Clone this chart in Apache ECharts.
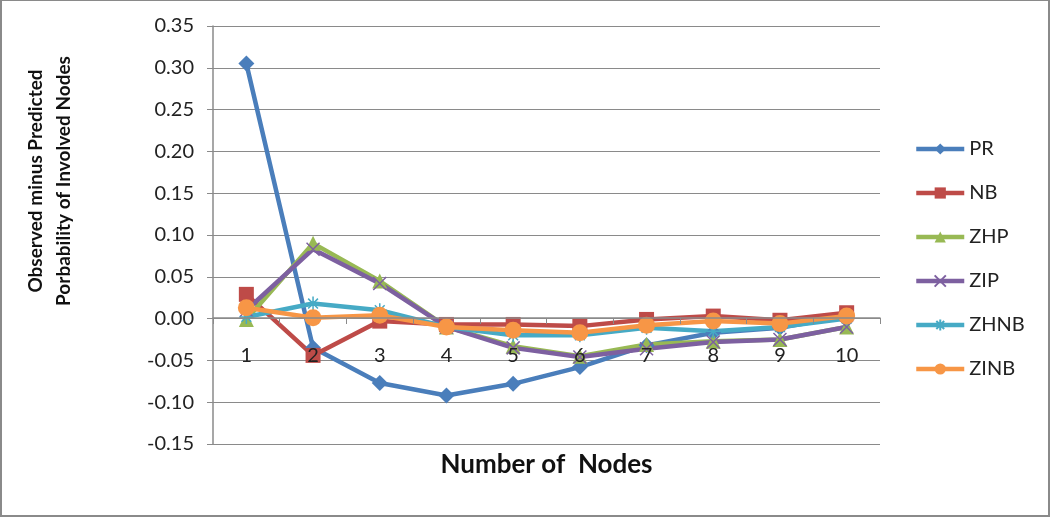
<!DOCTYPE html>
<html lang="en">
<head>
    <meta charset="UTF-8">
    <title> Observed minus Predicted </title>
    <script src="https://cdn.jsdelivr.net/npm/echarts@6.0.0/dist/echarts.min.js"></script>
    <style>
        body { margin: 0; background: #fff; }
        #main { width: 1046px; height: 514px; border: 2px solid #8a8a8a; border-width: 1px 2px 2px 2px; }
    </style>
</head>
<body>
    <div id="main"></div>
    <script type="text/javascript">
    // data
    var nodes = ['1', '2', '3', '4', '5', '6', '7', '8', '9', '10'];
    var pr   = [0.305, -0.035, -0.077, -0.092, -0.078, -0.058, -0.032, -0.017, -0.011, 0.003];
    var nb   = [0.029, -0.044, -0.003, -0.007, -0.007, -0.009, -0.001, 0.003, -0.002, 0.007];
    var zhp  = [-0.001, 0.090, 0.045, -0.010, -0.033, -0.045, -0.031, -0.027, -0.025, -0.010];
    var zip  = [0.010, 0.083, 0.042, -0.010, -0.035, -0.046, -0.036, -0.028, -0.025, -0.010];
    var zhnb = [0.002, 0.018, 0.010, -0.010, -0.020, -0.020, -0.011, -0.015, -0.010, 0.000];
    var zinb = [0.013, 0.001, 0.004, -0.010, -0.014, -0.017, -0.008, -0.003, -0.006, 0.003];

    var xMark = 'path://M0,0L10,10M10,0L0,10';
    var starMark = 'path://M5,0L5,10M0,5L10,5M1.5,1.5L8.5,8.5M8.5,1.5L1.5,8.5';

    var myChart = echarts.init(document.getElementById('main'));

    function line(name, data, color, symbol, size, lineSymbol) {
        var s = {
            name: name,
            type: 'line',
            data: data,
            symbol: symbol,
            symbolSize: size,
            showAllSymbol: true,
            lineStyle: { color: color, width: 4.5 },
            itemStyle: { color: color },
            emphasis: { disabled: true }
        };
        if (lineSymbol) {
            s.itemStyle = { color: color, borderColor: color, borderWidth: 1.5 };
        }
        return s;
    }

    var option = {
        animation: false,
        textStyle: { fontFamily: 'Lato' },
        grid: { left: 211, right: 168, top: 25, bottom: 71, outerBoundsMode: 'none' },
        // y title sits above the grid's centre in the original, so it is placed by hand
        graphic: [{
            type: 'text',
            x: 48,
            y: 180,
            rotation: Math.PI / 2,
            style: {
                text: 'Observed minus Predicted\nPorbability of Involved Nodes',
                fontFamily: 'Lato',
                fontSize: 19,
                fontWeight: 'bold',
                lineHeight: 28,
                fill: '#111',
                align: 'center',
                verticalAlign: 'middle'
            }
        }],
        legend: {
            orient: 'vertical',
            left: 907,
            top: 133,
            itemWidth: 48,
            itemHeight: 14,
            itemGap: 24,
            lineStyle: { width: 4.5 },
            textStyle: { fontSize: 20, color: '#222', fontFamily: 'Lato' }
        },
        xAxis: {
            type: 'category',
            data: nodes,
            offset: -126,
            z: 5,
            name: 'Number of  Nodes',
            nameLocation: 'middle',
            nameGap: 134,
            nameTextStyle: { fontSize: 26, fontWeight: 'bold', color: '#111' },
            axisLine: { onZero: false, lineStyle: { color: '#8a8a8a', width: 1.5 } },
            axisTick: { show: true, inside: false, length: 6, lineStyle: { color: '#8a8a8a' } },
            axisLabel: { fontSize: 20, color: '#222', margin: 28, interval: 0, hideOverlap: false }
        },
        yAxis: {
            type: 'value',
            min: -0.15,
            max: 0.35,
            interval: 0.05,
            axisLine: { show: true, lineStyle: { color: '#8a8a8a', width: 1.5 } },
            axisTick: { show: true, length: 6, lineStyle: { color: '#8a8a8a' } },
            splitLine: { lineStyle: { color: '#8a8a8a', width: 1.2 } },
            axisLabel: {
                fontSize: 20,
                color: '#222',
                margin: 19,
                formatter: function (v) { return v.toFixed(2); }
            }
        },
        series: [
            line('PR', pr, '#4a7ebb', 'diamond', 16),
            line('NB', nb, '#be4b48', 'rect', 15),
            line('ZHP', zhp, '#98b954', 'triangle', 15),
            line('ZIP', zip, '#7d60a0', xMark, 13, true),
            line('ZHNB', zhnb, '#46aac5', starMark, 14, true),
            line('ZINB', zinb, '#f79646', 'circle', 17)
        ]
    };

    myChart.setOption(option);
    </script>
</body>
</html>
